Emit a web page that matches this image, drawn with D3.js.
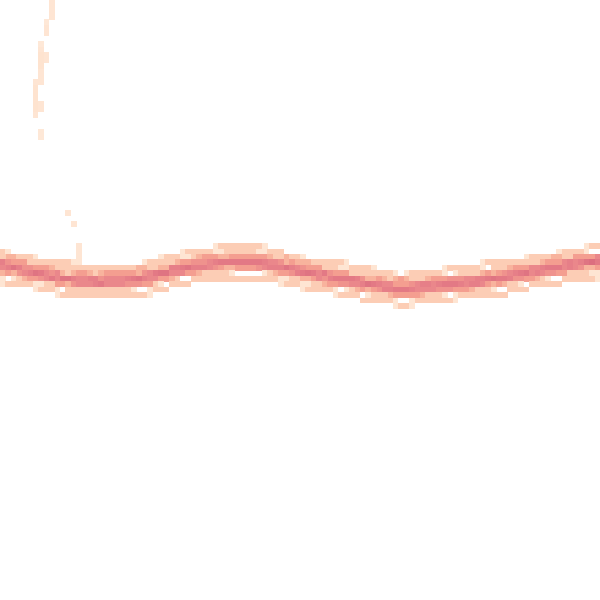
<!DOCTYPE html>
<html>
<head>
<meta charset="utf-8">
<script src="https://cdn.jsdelivr.net/npm/d3@7"></script>
<style>
  html, body { margin: 0; padding: 0; background: #ffffff; }
  svg { display: block; }
</style>
</head>
<body>
<div id="chart"></div>
<script>
// ---- data ----
const knotX = [0,1,2,3,4,5,6,7,8,9,10,11,12,13,14,15,16,17,18,19,20,21,22,23,24];

const seriesA = [69.6,68.4,67.7,67.0,66.3,66.2,67.2,69.0,69.8,70.5,71.0,69.7,68.2,67.4,66.9,65.8,64.7,65.2,66.1,66.9,67.2,68.0,68.9,69.9,70.7];
const seriesB = [68.7,67.5,66.4,65.9,65.3,65.4,66.3,67.8,68.5,69.3,69.6,68.7,67.3,66.2,65.7,64.8,63.8,64.0,64.7,65.6,66.1,66.9,68.0,68.9,69.2];
const seriesC = [67.9,67.1,66.0,64.9,64.8,65.1,65.5,66.8,68.1,68.8,68.8,67.9,66.9,65.8,64.8,64.0,63.4,63.7,64.1,64.6,65.4,66.5,67.3,68.2,68.9];
const seriesD = [67.3,66.2,65.2,64.3,64.0,64.3,65.0,66.2,67.3,68.0,68.0,67.3,66.1,65.0,64.4,63.3,62.4,63.0,63.5,64.0,64.7,65.8,66.6,67.5,68.1];
const seriesE = [66.7,65.6,64.6,63.7,63.4,63.7,64.4,65.7,66.6,67.3,67.6,66.7,65.4,64.5,63.7,62.8,61.8,62.3,62.9,63.4,64.2,65.1,66.1,66.8,67.5];
const seriesF = [66.0,64.9,63.9,63.0,62.7,63.1,63.6,64.9,66.0,66.7,66.7,66.0,64.9,63.8,62.9,62.0,61.3,61.6,62.1,62.8,63.5,64.4,65.3,66.2,66.9];
const seriesG = [65.3,64.5,63.4,62.2,62.2,62.5,62.9,64.7,65.4,65.8,66.3,65.6,64.1,63.2,62.5,61.2,60.6,61.2,61.7,62.1,62.8,63.9,65.0,65.5,66.2];
const seriesH = [63.8,63.2,61.8,60.7,60.9,61.3,61.5,63.0,64.2,64.4,64.8,64.1,62.7,62.0,61.0,59.7,59.3,59.5,60.4,60.8,61.2,62.5,63.4,64.1,65.0];
const seriesI = [67.5,66.6,65.2,64.5,64.4,64.5,65.0,66.6,67.5,68.1,68.4,67.4,66.3,65.4,64.5,63.4,62.8,63.1,63.7,64.2,65.0,65.9,66.9,67.8,68.2];
const seriesJ = [67.1,65.9,64.8,64.1,63.7,64.0,64.7,66.0,66.9,67.6,67.9,66.9,65.8,64.9,64.0,62.9,62.2,62.7,63.2,63.7,64.5,65.4,66.3,67.2,67.9];
const seriesK = [66.5,65.6,64.2,63.5,63.4,63.5,64.0,65.6,66.5,67.0,67.4,66.5,65.3,64.4,63.4,62.5,61.8,62.1,62.6,63.3,64.0,64.9,65.8,66.8,67.3];

// sparse outlier cells [column, row, density]
const spikeCells = [
  [9,-1,0.5],[9,0,0.5],[9,1,0.5],[9,2,0.5],
  [8,3,0.4],[8,4,0.5],[8,5,0.5],
  [7,7,0.4],[7,8,0.5],[7,9,0.6],[7,10,0.6],[7,11,0.6],[7,12,0.5],[7,13,0.5],[7,14,0.5],
  [8,9,0.5],[8,10,0.5],
  [6,14,0.5],[6,15,0.6],[6,16,0.6],[6,17,0.6],[6,18,0.6],[6,19,0.6],[6,20,0.5],
  [7,18,0.5],[7,19,0.5],
  [7,23,0.4],[7,24,0.4],
  [12,38,0.5],
  [13,40,0.5],
  [14,44,0.5],[14,45,0.5],[14,46,0.5],[14,47,0.5]
];

const colorStops = ["#fff2e8", "#fee0cb", "#fbc1a7", "#f5a090", "#e8828a", "#dc6e7f"];
const colorDomain = [0, 0.7, 1.2, 1.9, 3.2, 5.0];

// ---- drawing ----
const W = 600, H = 600;
const cols = 110;
const cellW = W / cols;
const cellH = W / cols;
const rowOffset = 3.1;

const allSeries = [seriesA, seriesB, seriesC, seriesD, seriesE, seriesF, seriesG, seriesH, seriesI, seriesJ, seriesK];

const x = d3.scaleLinear().domain([0, 24]).range([0, W]);
const y = d3.scaleLinear().domain([0, 120]).range([H, 0]);
const color = d3.scaleLinear().domain(colorDomain).range(colorStops).clamp(true);

const density = new Map();
function add(c, r, v) {
  const k = c + "," + r;
  density.set(k, (density.get(k) || 0) + v);
}

allSeries.forEach(s => {
  const f = d3.scaleLinear().domain(knotX).range(s);
  const pyAt = px => y(f(x.invert(px)));
  for (let c = 0; c < cols; c++) {
    const yl = pyAt(c * cellW + 0.5);
    const yr = pyAt((c + 1) * cellW - 0.5);
    const r0 = Math.floor((Math.min(yl, yr) - rowOffset) / cellH);
    const r1 = Math.floor((Math.max(yl, yr) - rowOffset) / cellH);
    const n = r1 - r0 + 1;
    for (let r = r0; r <= r1; r++) add(c, r, 1 / n);
  }
});
spikeCells.forEach(([c, r, v]) => add(c, r, v));

const cells = Array.from(density, ([k, v]) => {
  const [c, r] = k.split(",").map(Number);
  return { c, r, v };
}).filter(d => d.v > 0.05);

const svg = d3.select("#chart").append("svg")
  .attr("width", W).attr("height", H)
  .attr("viewBox", [0, 0, W, H]);

svg.append("rect").attr("width", W).attr("height", H).attr("fill", "#ffffff");

svg.append("g")
  .attr("shape-rendering", "crispEdges")
  .selectAll("rect")
  .data(cells)
  .join("rect")
  .attr("x", d => d.c * cellW)
  .attr("y", d => rowOffset + d.r * cellH)
  .attr("width", cellW + 0.3)
  .attr("height", cellH + 0.3)
  .attr("fill", d => color(d.v));
</script>
</body>
</html>
